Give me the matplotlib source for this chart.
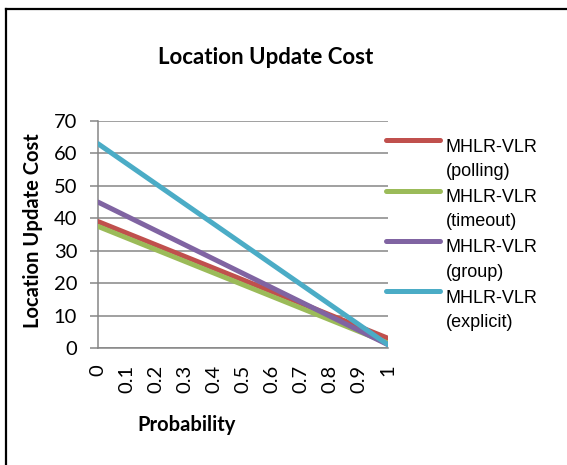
import matplotlib
matplotlib.use("Agg")
import matplotlib.pyplot as plt
from matplotlib.lines import Line2D
from matplotlib.legend_handler import HandlerLine2D

# probability steps and the cost of each update scheme
prob = [0, 0.1, 0.2, 0.3, 0.4, 0.5, 0.6, 0.7, 0.8, 0.9, 1]
prob_labels = ["0", "0.1", "0.2", "0.3", "0.4", "0.5", "0.6", "0.7", "0.8", "0.9", "1"]
polling = [39, 35.4, 31.8, 28.2, 24.6, 21, 17.4, 13.8, 10.2, 6.6, 3]
timeout = [37.5, 33.9, 30.3, 26.7, 23.1, 19.5, 15.9, 12.3, 8.7, 5.1, 1.5]
group = [45, 40.6, 36.2, 31.8, 27.4, 23, 18.6, 14.2, 9.8, 5.4, 1]
explicit = [63, 56.8, 50.6, 44.4, 38.2, 32, 25.8, 19.6, 13.4, 7.2, 1]
series_names = ["MHLR-VLR\n(polling)", "MHLR-VLR\n(timeout)",
                "MHLR-VLR\n(group)", "MHLR-VLR\n(explicit)"]
y_ticks = [0, 10, 20, 30, 40, 50, 60, 70]

colors = ["#C0504D", "#9BBB59", "#8064A2", "#4BACC6"]
grid_col = "#868686"
tick_font = "Lato"
LEG_SIZE = 13
LEG_SPACING = 1.55


class FirstLineHandler(HandlerLine2D):
    # put the legend swatch next to the first line of a two-line label
    def create_artists(self, legend, orig_handle, xdescent, ydescent,
                       width, height, fontsize, trans):
        arts = super().create_artists(legend, orig_handle, xdescent, ydescent,
                                      width, height, fontsize, trans)
        for a in arts:
            a.set_ydata([y + fontsize * 1.07 for y in a.get_ydata()])
        return arts


fig = plt.figure(figsize=(5.67, 4.65), dpi=100)
ax = fig.add_axes([98 / 567, 1 - 348 / 465, 290 / 567, 227 / 465])

for vals, name, c in zip([polling, timeout, group, explicit], series_names, colors):
    ax.plot(prob, vals, color=c, lw=3.6, solid_capstyle="round", label=name, zorder=3)

ax.set_xlim(0, 1)
ax.set_ylim(0, 70)
ax.set_yticks(y_ticks)
ax.set_xticks(prob)
ax.set_xticklabels(prob_labels, rotation=90, fontsize=14.5, family=tick_font)
ax.set_yticklabels([str(v) for v in y_ticks], fontsize=14.5, family=tick_font)
ax.yaxis.grid(True, color=grid_col, lw=1.1)
ax.set_axisbelow(True)
ax.tick_params(axis="y", length=6, width=1.1, color=grid_col, pad=9)
ax.tick_params(axis="x", length=0, pad=12)
for s in ["top", "right"]:
    ax.spines[s].set_visible(False)
for s in ["left", "bottom"]:
    ax.spines[s].set_color(grid_col)
    ax.spines[s].set_linewidth(1.1)

ax.set_xlabel("Probability", fontsize=14.5, fontweight="bold", family=tick_font)
ax.xaxis.set_label_coords(89 / 290, -77 / 227)
ax.xaxis.label.set_va("center")
ax.set_ylabel("Location Update Cost", fontsize=14.5, fontweight="bold", family=tick_font)
ax.yaxis.set_label_coords(-65 / 290, 117 / 227)
ax.yaxis.label.set_va("center")

fig.text(266 / 567, 1 - 58 / 465, "Location Update Cost", ha="center", va="center",
         fontsize=16, fontweight="bold", family=tick_font)

leg = ax.legend(loc="upper left", bbox_to_anchor=(386 / 567, 1 - 139 / 465),
                bbox_transform=fig.transFigure, frameon=False,
                prop={"family": "Liberation Sans", "size": LEG_SIZE},
                handlelength=3.0, handletextpad=0.3, labelspacing=0.5,
                borderpad=0, borderaxespad=0,
                handler_map={Line2D: FirstLineHandler()})
for t in leg.get_texts():
    t.set_linespacing(LEG_SPACING)

# chart frame: only the left and top edges are visible
fig.add_artist(Line2D([6 / 567, 6 / 567], [0, 1 - 9.5 / 465], transform=fig.transFigure,
                      color="black", lw=1.6))
fig.add_artist(Line2D([6 / 567, 1], [1 - 9.5 / 465, 1 - 9.5 / 465], transform=fig.transFigure,
                      color="black", lw=1.6))

fig.savefig("out.png", dpi=100)
